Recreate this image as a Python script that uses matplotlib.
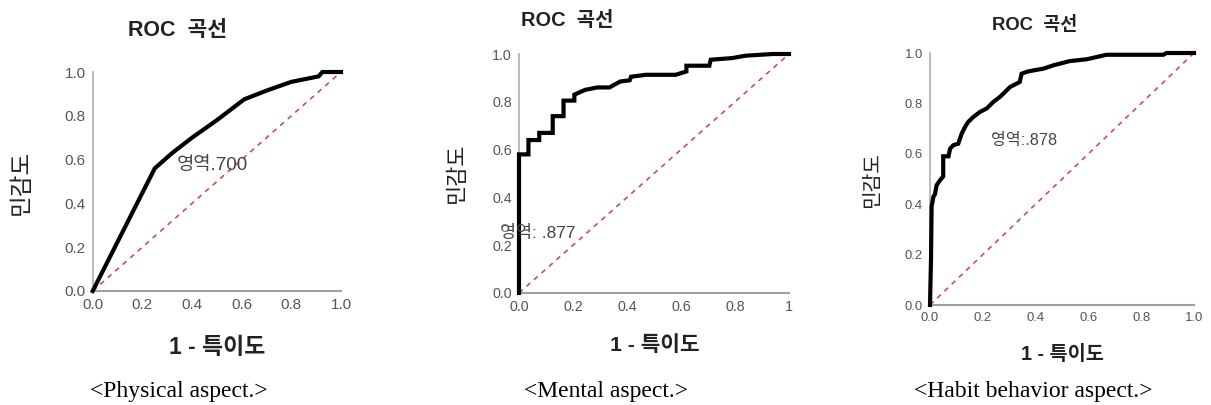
import matplotlib
matplotlib.use("Agg")
import matplotlib.pyplot as plt

plt.rcParams["font.family"] = ["Liberation Sans", "Noto Sans CJK KR", "DejaVu Sans"]

W, H = 1211, 405

# ROC points (1 - specificity, sensitivity)
phys_fpr = [0, 0.25, 0.32, 0.40, 0.50, 0.61, 0.70, 0.80, 0.91, 0.925, 1.0]
phys_tpr = [0, 0.56, 0.63, 0.70, 0.78, 0.875, 0.915, 0.955, 0.98, 1.0, 1.0]

ment_fpr = [0, 0, 0.035, 0.035, 0.075, 0.075, 0.125, 0.125, 0.165, 0.165, 0.205, 0.205,
            0.245, 0.29, 0.335, 0.375, 0.41, 0.415, 0.47, 0.58, 0.62, 0.62, 0.705, 0.71,
            0.79, 0.84, 0.94, 1.0]
ment_tpr = [0, 0.58, 0.58, 0.64, 0.64, 0.67, 0.67, 0.74, 0.74, 0.805, 0.805, 0.83,
            0.85, 0.86, 0.86, 0.885, 0.89, 0.905, 0.913, 0.913, 0.927, 0.951, 0.951, 0.976,
            0.983, 0.993, 1.0, 1.0]

habit_fpr = [0, 0.004, 0.006, 0.013, 0.019, 0.025, 0.038, 0.05, 0.05, 0.07, 0.076, 0.088,
             0.107, 0.12, 0.133, 0.145, 0.164, 0.189, 0.215, 0.24, 0.265, 0.284, 0.303,
             0.34, 0.347, 0.372, 0.43, 0.467, 0.53, 0.593, 0.669, 0.884, 0.896, 1.0]
habit_tpr = [0, 0.19, 0.39, 0.43, 0.44, 0.475, 0.495, 0.51, 0.59, 0.59, 0.62, 0.634,
             0.64, 0.68, 0.707, 0.727, 0.746, 0.766, 0.78, 0.806, 0.826, 0.845, 0.865,
             0.885, 0.918, 0.927, 0.938, 0.951, 0.968, 0.975, 0.993, 0.993, 1.0, 1.0]

ticks = [0.0, 0.2, 0.4, 0.6, 0.8, 1.0]
tick_labels = ["0.0", "0.2", "0.4", "0.6", "0.8", "1.0"]

# s = per-panel text scale (the source panels were pasted at slightly different sizes)
panels = [
    dict(fpr=phys_fpr, tpr=phys_tpr, box=(92.7, 72, 341, 291), auc="영역.700", auc_xy=(0.338, 0.574),
         s=1.0, title_xy=(177.5, 30), ylab_xy=(22, 182), xlab_xy=(217.5, 348),
         cap="<Physical aspect.>", cap_xy=(179, 392), xlast="1.0"),
    dict(fpr=ment_fpr, tpr=ment_tpr, box=(519, 54, 789, 293), auc="영역: .877", auc_xy=(-0.07, 0.249),
         s=0.93, title_xy=(566.7, 20), ylab_xy=(457, 173), xlab_xy=(655, 345),
         cap="<Mental aspect.>", cap_xy=(606, 392), xlast="1"),
    dict(fpr=habit_fpr, tpr=habit_tpr, box=(930, 53, 1194, 305), auc="영역:.878", auc_xy=(0.23, 0.654),
         s=0.86, title_xy=(1035, 25), ylab_xy=(873, 180), xlab_xy=(1062.5, 355),
         cap="<Habit behavior aspect.>", cap_xy=(1033, 392), xlast="1.0"),
]


def fx(x):
    return x / W


def fy(y):
    return 1 - y / H


fig = plt.figure(figsize=(W / 100, H / 100), dpi=100)
fig.patch.set_facecolor("white")

for p in panels:
    x0, y0, x1, y1 = p["box"]
    s = p["s"]
    ax = fig.add_axes([fx(x0), fy(y1), (x1 - x0) / W, (y1 - y0) / H])
    ax.plot([0, 1], [0, 1], ls=(0, (3, 3)), color="#c9504f", lw=1.2, zorder=2)
    ax.plot(p["fpr"], p["tpr"], color="black", lw=3, solid_joinstyle="miter", zorder=3, clip_on=False)
    ax.set_xlim(0, 1)
    ax.set_ylim(0, 1)
    ax.set_xticks(ticks)
    ax.set_xticklabels(tick_labels[:-1] + [p["xlast"]])
    ax.set_yticks(ticks)
    ax.set_yticklabels(tick_labels)
    ax.tick_params(length=0, labelsize=11 * s, labelcolor="#555555", pad=5)
    for side in ("top", "right"):
        ax.spines[side].set_visible(False)
    ax.spines["left"].set_color("#b0b0b0")
    ax.spines["bottom"].set_color("#a0a0a0")
    ax.spines["left"].set_linewidth(1.2)
    ax.spines["bottom"].set_linewidth(1.5)
    ax.set_facecolor("white")
    ax.text(p["auc_xy"][0], p["auc_xy"][1], p["auc"], fontsize=13.5 * s, color="#444444",
            ha="left", va="center", zorder=4)

    fig.text(fx(p["title_xy"][0]), fy(p["title_xy"][1]), "ROC  곡선", fontsize=15.5 * s, fontweight="bold",
             color="#222222", ha="center", va="center")
    fig.text(fx(p["ylab_xy"][0]), fy(p["ylab_xy"][1]), "민감도", fontsize=17 * s, rotation=90,
             color="#222222", ha="center", va="center")
    fig.text(fx(p["xlab_xy"][0]), fy(p["xlab_xy"][1]), "1 - 특이도", fontsize=16.5 * s, fontweight="bold",
             color="#222222", ha="center", va="center")
    fig.text(fx(p["cap_xy"][0]), fy(p["cap_xy"][1]), p["cap"], fontsize=17, family="Liberation Serif",
             color="black", ha="center", va="center")

fig.savefig("out.png", dpi=100, facecolor="white")
